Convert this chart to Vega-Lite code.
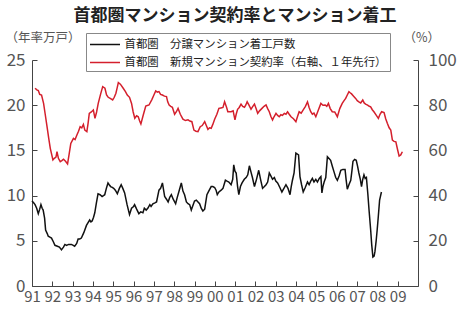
{
"$schema": "https://vega.github.io/schema/vega-lite/v6.json",
"width": 386, "height": 226,
"autosize": {"type": "none"},
"padding": {"left": 32, "top": 60, "right": 41, "bottom": 23},
"background": "white",
"title": {"text": "首都圏マンション契約率とマンション着工", "fontSize": 17, "fontWeight": "bold", "font": "Noto Sans CJK JP", "color": "#222", "anchor": "middle", "frame": "group", "offset": 6, "dx": 10},
"config": {
  "view": {"stroke": null},
  "font": "Noto Sans CJK JP",
  "axis": {"grid": false, "domainColor": "#444", "tickColor": "#444", "labelColor": "#555", "titleColor": "#555", "titleFontWeight": "normal", "titleFontSize": 12.5, "titleAngle": 0, "titleBaseline": "middle", "titleAlign": "left", "tickSize": -5}
},
"data": {"values": [
{"t":1991.0,"v":9.4,"s":"A"},{"t":1991.08,"v":9.2,"s":"A"},{"t":1991.15,"v":9.0,"s":"A"},{"t":1991.23,"v":8.6,"s":"A"},{"t":1991.31,"v":8.0,"s":"A"},{"t":1991.38,"v":8.5,"s":"A"},{"t":1991.44,"v":9.0,"s":"A"},{"t":1991.5,"v":8.6,"s":"A"},{"t":1991.55,"v":8.4,"s":"A"},{"t":1991.62,"v":7.5,"s":"A"},{"t":1991.67,"v":6.2,"s":"A"},{"t":1991.75,"v":5.8,"s":"A"},{"t":1991.8,"v":5.5,"s":"A"},{"t":1991.88,"v":5.4,"s":"A"},{"t":1991.96,"v":5.3,"s":"A"},{"t":1992.05,"v":4.9,"s":"A"},{"t":1992.13,"v":4.5,"s":"A"},{"t":1992.25,"v":4.4,"s":"A"},{"t":1992.35,"v":4.3,"s":"A"},{"t":1992.45,"v":4.0,"s":"A"},{"t":1992.55,"v":4.3,"s":"A"},{"t":1992.62,"v":4.6,"s":"A"},{"t":1992.7,"v":4.5,"s":"A"},{"t":1992.8,"v":4.6,"s":"A"},{"t":1992.94,"v":4.6,"s":"A"},{"t":1993.03,"v":4.5,"s":"A"},{"t":1993.1,"v":4.4,"s":"A"},{"t":1993.2,"v":4.7,"s":"A"},{"t":1993.27,"v":5.2,"s":"A"},{"t":1993.35,"v":5.2,"s":"A"},{"t":1993.43,"v":5.3,"s":"A"},{"t":1993.55,"v":5.9,"s":"A"},{"t":1993.68,"v":6.7,"s":"A"},{"t":1993.76,"v":7.0,"s":"A"},{"t":1993.84,"v":7.3,"s":"A"},{"t":1993.9,"v":7.1,"s":"A"},{"t":1993.96,"v":7.2,"s":"A"},{"t":1994.03,"v":7.6,"s":"A"},{"t":1994.09,"v":8.1,"s":"A"},{"t":1994.17,"v":9.2,"s":"A"},{"t":1994.25,"v":10.2,"s":"A"},{"t":1994.35,"v":10.1,"s":"A"},{"t":1994.45,"v":9.9,"s":"A"},{"t":1994.52,"v":10.0,"s":"A"},{"t":1994.58,"v":10.1,"s":"A"},{"t":1994.66,"v":10.8,"s":"A"},{"t":1994.74,"v":11.4,"s":"A"},{"t":1994.8,"v":11.2,"s":"A"},{"t":1994.87,"v":11.0,"s":"A"},{"t":1994.95,"v":10.9,"s":"A"},{"t":1995.02,"v":10.8,"s":"A"},{"t":1995.1,"v":10.6,"s":"A"},{"t":1995.15,"v":10.4,"s":"A"},{"t":1995.2,"v":10.2,"s":"A"},{"t":1995.3,"v":10.8,"s":"A"},{"t":1995.39,"v":11.2,"s":"A"},{"t":1995.47,"v":10.8,"s":"A"},{"t":1995.56,"v":10.3,"s":"A"},{"t":1995.68,"v":9.0,"s":"A"},{"t":1995.8,"v":7.9,"s":"A"},{"t":1995.9,"v":8.6,"s":"A"},{"t":1996.0,"v":8.8,"s":"A"},{"t":1996.05,"v":9.0,"s":"A"},{"t":1996.15,"v":8.5,"s":"A"},{"t":1996.26,"v":8.0,"s":"A"},{"t":1996.35,"v":8.2,"s":"A"},{"t":1996.46,"v":8.1,"s":"A"},{"t":1996.53,"v":8.6,"s":"A"},{"t":1996.62,"v":8.4,"s":"A"},{"t":1996.7,"v":8.6,"s":"A"},{"t":1996.8,"v":9.0,"s":"A"},{"t":1996.86,"v":8.8,"s":"A"},{"t":1996.95,"v":9.1,"s":"A"},{"t":1997.05,"v":9.2,"s":"A"},{"t":1997.13,"v":9.3,"s":"A"},{"t":1997.25,"v":10.6,"s":"A"},{"t":1997.33,"v":10.8,"s":"A"},{"t":1997.42,"v":11.4,"s":"A"},{"t":1997.53,"v":9.9,"s":"A"},{"t":1997.62,"v":9.6,"s":"A"},{"t":1997.7,"v":9.3,"s":"A"},{"t":1997.78,"v":9.8,"s":"A"},{"t":1997.86,"v":10.1,"s":"A"},{"t":1997.95,"v":9.6,"s":"A"},{"t":1998.07,"v":9.1,"s":"A"},{"t":1998.15,"v":9.8,"s":"A"},{"t":1998.25,"v":10.6,"s":"A"},{"t":1998.35,"v":11.4,"s":"A"},{"t":1998.43,"v":10.5,"s":"A"},{"t":1998.51,"v":10.1,"s":"A"},{"t":1998.6,"v":9.3,"s":"A"},{"t":1998.68,"v":9.1,"s":"A"},{"t":1998.76,"v":9.0,"s":"A"},{"t":1998.84,"v":8.4,"s":"A"},{"t":1998.92,"v":8.9,"s":"A"},{"t":1999.0,"v":9.4,"s":"A"},{"t":1999.09,"v":9.5,"s":"A"},{"t":1999.17,"v":9.3,"s":"A"},{"t":1999.25,"v":9.1,"s":"A"},{"t":1999.33,"v":8.6,"s":"A"},{"t":1999.41,"v":8.3,"s":"A"},{"t":1999.5,"v":8.5,"s":"A"},{"t":1999.61,"v":10.1,"s":"A"},{"t":1999.7,"v":10.5,"s":"A"},{"t":1999.82,"v":11.0,"s":"A"},{"t":1999.9,"v":11.0,"s":"A"},{"t":1999.99,"v":10.9,"s":"A"},{"t":2000.06,"v":10.6,"s":"A"},{"t":2000.12,"v":10.1,"s":"A"},{"t":2000.2,"v":10.4,"s":"A"},{"t":2000.31,"v":10.6,"s":"A"},{"t":2000.4,"v":10.8,"s":"A"},{"t":2000.52,"v":11.7,"s":"A"},{"t":2000.6,"v":11.6,"s":"A"},{"t":2000.69,"v":11.5,"s":"A"},{"t":2000.8,"v":11.2,"s":"A"},{"t":2000.88,"v":11.8,"s":"A"},{"t":2000.93,"v":13.4,"s":"A"},{"t":2000.99,"v":12.7,"s":"A"},{"t":2001.05,"v":12.5,"s":"A"},{"t":2001.12,"v":11.0,"s":"A"},{"t":2001.18,"v":10.1,"s":"A"},{"t":2001.26,"v":11.0,"s":"A"},{"t":2001.34,"v":11.4,"s":"A"},{"t":2001.45,"v":11.8,"s":"A"},{"t":2001.54,"v":12.0,"s":"A"},{"t":2001.62,"v":12.3,"s":"A"},{"t":2001.7,"v":13.3,"s":"A"},{"t":2001.78,"v":12.6,"s":"A"},{"t":2001.85,"v":12.0,"s":"A"},{"t":2001.95,"v":11.0,"s":"A"},{"t":2002.05,"v":11.8,"s":"A"},{"t":2002.16,"v":12.8,"s":"A"},{"t":2002.25,"v":11.8,"s":"A"},{"t":2002.35,"v":10.8,"s":"A"},{"t":2002.44,"v":11.0,"s":"A"},{"t":2002.52,"v":11.2,"s":"A"},{"t":2002.6,"v":11.5,"s":"A"},{"t":2002.68,"v":12.5,"s":"A"},{"t":2002.75,"v":12.2,"s":"A"},{"t":2002.84,"v":11.8,"s":"A"},{"t":2002.93,"v":12.0,"s":"A"},{"t":2003.0,"v":11.6,"s":"A"},{"t":2003.09,"v":11.4,"s":"A"},{"t":2003.2,"v":10.9,"s":"A"},{"t":2003.3,"v":10.4,"s":"A"},{"t":2003.4,"v":10.8,"s":"A"},{"t":2003.5,"v":11.2,"s":"A"},{"t":2003.6,"v":10.8,"s":"A"},{"t":2003.7,"v":10.1,"s":"A"},{"t":2003.76,"v":11.0,"s":"A"},{"t":2003.82,"v":11.7,"s":"A"},{"t":2003.9,"v":12.5,"s":"A"},{"t":2003.99,"v":14.7,"s":"A"},{"t":2004.06,"v":14.6,"s":"A"},{"t":2004.12,"v":14.5,"s":"A"},{"t":2004.19,"v":12.1,"s":"A"},{"t":2004.27,"v":11.2,"s":"A"},{"t":2004.35,"v":10.4,"s":"A"},{"t":2004.45,"v":10.9,"s":"A"},{"t":2004.56,"v":11.5,"s":"A"},{"t":2004.64,"v":11.2,"s":"A"},{"t":2004.72,"v":11.6,"s":"A"},{"t":2004.8,"v":11.9,"s":"A"},{"t":2004.88,"v":11.5,"s":"A"},{"t":2004.97,"v":11.8,"s":"A"},{"t":2005.05,"v":11.5,"s":"A"},{"t":2005.14,"v":11.9,"s":"A"},{"t":2005.22,"v":12.1,"s":"A"},{"t":2005.27,"v":10.3,"s":"A"},{"t":2005.32,"v":11.0,"s":"A"},{"t":2005.38,"v":11.5,"s":"A"},{"t":2005.46,"v":12.0,"s":"A"},{"t":2005.54,"v":14.3,"s":"A"},{"t":2005.62,"v":14.1,"s":"A"},{"t":2005.7,"v":13.9,"s":"A"},{"t":2005.79,"v":13.2,"s":"A"},{"t":2005.87,"v":12.6,"s":"A"},{"t":2005.95,"v":12.0,"s":"A"},{"t":2006.03,"v":11.7,"s":"A"},{"t":2006.12,"v":12.2,"s":"A"},{"t":2006.2,"v":12.8,"s":"A"},{"t":2006.3,"v":12.9,"s":"A"},{"t":2006.41,"v":12.9,"s":"A"},{"t":2006.46,"v":11.8,"s":"A"},{"t":2006.52,"v":10.7,"s":"A"},{"t":2006.6,"v":11.2,"s":"A"},{"t":2006.69,"v":11.7,"s":"A"},{"t":2006.75,"v":12.8,"s":"A"},{"t":2006.8,"v":13.8,"s":"A"},{"t":2006.88,"v":14.0,"s":"A"},{"t":2006.96,"v":13.9,"s":"A"},{"t":2007.03,"v":13.2,"s":"A"},{"t":2007.09,"v":12.5,"s":"A"},{"t":2007.16,"v":11.8,"s":"A"},{"t":2007.22,"v":11.0,"s":"A"},{"t":2007.28,"v":11.8,"s":"A"},{"t":2007.34,"v":12.3,"s":"A"},{"t":2007.4,"v":11.9,"s":"A"},{"t":2007.46,"v":12.0,"s":"A"},{"t":2007.53,"v":10.2,"s":"A"},{"t":2007.59,"v":8.4,"s":"A"},{"t":2007.67,"v":6.2,"s":"A"},{"t":2007.72,"v":4.6,"s":"A"},{"t":2007.78,"v":3.2,"s":"A"},{"t":2007.84,"v":3.3,"s":"A"},{"t":2007.88,"v":3.8,"s":"A"},{"t":2007.94,"v":5.0,"s":"A"},{"t":2007.99,"v":6.2,"s":"A"},{"t":2008.05,"v":7.8,"s":"A"},{"t":2008.11,"v":9.5,"s":"A"},{"t":2008.2,"v":10.4,"s":"A"},
{"t":1991.15,"v":87.5,"s":"B"},{"t":1991.24,"v":86.8,"s":"B"},{"t":1991.31,"v":86.5,"s":"B"},{"t":1991.38,"v":84.8,"s":"B"},{"t":1991.47,"v":84.5,"s":"B"},{"t":1991.57,"v":80.8,"s":"B"},{"t":1991.65,"v":76.0,"s":"B"},{"t":1991.74,"v":70.5,"s":"B"},{"t":1991.82,"v":65.5,"s":"B"},{"t":1991.9,"v":60.9,"s":"B"},{"t":1992.03,"v":55.8,"s":"B"},{"t":1992.1,"v":56.5,"s":"B"},{"t":1992.18,"v":57.0,"s":"B"},{"t":1992.23,"v":59.4,"s":"B"},{"t":1992.3,"v":56.5,"s":"B"},{"t":1992.39,"v":55.0,"s":"B"},{"t":1992.47,"v":55.5,"s":"B"},{"t":1992.55,"v":56.1,"s":"B"},{"t":1992.65,"v":55.2,"s":"B"},{"t":1992.75,"v":54.0,"s":"B"},{"t":1992.83,"v":58.5,"s":"B"},{"t":1992.91,"v":63.1,"s":"B"},{"t":1993.04,"v":65.3,"s":"B"},{"t":1993.12,"v":64.8,"s":"B"},{"t":1993.21,"v":66.8,"s":"B"},{"t":1993.29,"v":68.5,"s":"B"},{"t":1993.37,"v":70.5,"s":"B"},{"t":1993.45,"v":70.0,"s":"B"},{"t":1993.53,"v":71.5,"s":"B"},{"t":1993.6,"v":69.0,"s":"B"},{"t":1993.7,"v":68.3,"s":"B"},{"t":1993.76,"v":72.0,"s":"B"},{"t":1993.82,"v":76.4,"s":"B"},{"t":1993.92,"v":77.0,"s":"B"},{"t":1994.02,"v":77.9,"s":"B"},{"t":1994.1,"v":74.2,"s":"B"},{"t":1994.18,"v":77.0,"s":"B"},{"t":1994.26,"v":80.8,"s":"B"},{"t":1994.38,"v":85.0,"s":"B"},{"t":1994.48,"v":88.2,"s":"B"},{"t":1994.59,"v":87.5,"s":"B"},{"t":1994.67,"v":84.5,"s":"B"},{"t":1994.75,"v":83.5,"s":"B"},{"t":1994.85,"v":83.0,"s":"B"},{"t":1994.97,"v":82.3,"s":"B"},{"t":1995.05,"v":83.5,"s":"B"},{"t":1995.13,"v":85.3,"s":"B"},{"t":1995.2,"v":88.0,"s":"B"},{"t":1995.25,"v":90.0,"s":"B"},{"t":1995.35,"v":89.3,"s":"B"},{"t":1995.49,"v":87.5,"s":"B"},{"t":1995.6,"v":86.0,"s":"B"},{"t":1995.69,"v":84.5,"s":"B"},{"t":1995.8,"v":83.5,"s":"B"},{"t":1995.9,"v":80.8,"s":"B"},{"t":1995.98,"v":77.0,"s":"B"},{"t":1996.06,"v":74.2,"s":"B"},{"t":1996.15,"v":75.3,"s":"B"},{"t":1996.23,"v":74.9,"s":"B"},{"t":1996.3,"v":73.0,"s":"B"},{"t":1996.36,"v":71.7,"s":"B"},{"t":1996.48,"v":75.8,"s":"B"},{"t":1996.6,"v":79.6,"s":"B"},{"t":1996.68,"v":79.9,"s":"B"},{"t":1996.76,"v":80.1,"s":"B"},{"t":1996.9,"v":82.5,"s":"B"},{"t":1997.0,"v":84.5,"s":"B"},{"t":1997.09,"v":86.3,"s":"B"},{"t":1997.17,"v":85.8,"s":"B"},{"t":1997.25,"v":86.0,"s":"B"},{"t":1997.33,"v":84.8,"s":"B"},{"t":1997.42,"v":84.5,"s":"B"},{"t":1997.52,"v":84.0,"s":"B"},{"t":1997.62,"v":83.8,"s":"B"},{"t":1997.68,"v":81.5,"s":"B"},{"t":1997.75,"v":80.1,"s":"B"},{"t":1997.83,"v":79.5,"s":"B"},{"t":1997.91,"v":79.1,"s":"B"},{"t":1998.02,"v":76.0,"s":"B"},{"t":1998.1,"v":77.0,"s":"B"},{"t":1998.19,"v":78.6,"s":"B"},{"t":1998.3,"v":76.0,"s":"B"},{"t":1998.43,"v":73.8,"s":"B"},{"t":1998.55,"v":73.2,"s":"B"},{"t":1998.68,"v":73.5,"s":"B"},{"t":1998.77,"v":73.0,"s":"B"},{"t":1998.87,"v":72.7,"s":"B"},{"t":1998.97,"v":69.0,"s":"B"},{"t":1999.07,"v":68.5,"s":"B"},{"t":1999.17,"v":68.3,"s":"B"},{"t":1999.28,"v":70.5,"s":"B"},{"t":1999.38,"v":71.0,"s":"B"},{"t":1999.5,"v":72.7,"s":"B"},{"t":1999.58,"v":71.0,"s":"B"},{"t":1999.66,"v":69.3,"s":"B"},{"t":1999.74,"v":70.0,"s":"B"},{"t":1999.82,"v":69.8,"s":"B"},{"t":1999.9,"v":71.5,"s":"B"},{"t":1999.99,"v":73.8,"s":"B"},{"t":2000.1,"v":76.0,"s":"B"},{"t":2000.2,"v":78.6,"s":"B"},{"t":2000.3,"v":78.8,"s":"B"},{"t":2000.4,"v":79.0,"s":"B"},{"t":2000.48,"v":81.5,"s":"B"},{"t":2000.58,"v":79.0,"s":"B"},{"t":2000.64,"v":77.1,"s":"B"},{"t":2000.8,"v":77.1,"s":"B"},{"t":2000.9,"v":77.5,"s":"B"},{"t":2000.99,"v":73.5,"s":"B"},{"t":2001.05,"v":76.0,"s":"B"},{"t":2001.12,"v":78.2,"s":"B"},{"t":2001.2,"v":79.0,"s":"B"},{"t":2001.29,"v":80.5,"s":"B"},{"t":2001.37,"v":79.5,"s":"B"},{"t":2001.46,"v":79.1,"s":"B"},{"t":2001.52,"v":80.0,"s":"B"},{"t":2001.59,"v":81.5,"s":"B"},{"t":2001.68,"v":80.0,"s":"B"},{"t":2001.78,"v":78.2,"s":"B"},{"t":2001.87,"v":79.5,"s":"B"},{"t":2001.95,"v":80.5,"s":"B"},{"t":2002.03,"v":78.5,"s":"B"},{"t":2002.11,"v":76.4,"s":"B"},{"t":2002.2,"v":77.5,"s":"B"},{"t":2002.32,"v":78.6,"s":"B"},{"t":2002.42,"v":79.5,"s":"B"},{"t":2002.52,"v":80.1,"s":"B"},{"t":2002.6,"v":78.5,"s":"B"},{"t":2002.68,"v":77.1,"s":"B"},{"t":2002.76,"v":75.0,"s":"B"},{"t":2002.84,"v":73.5,"s":"B"},{"t":2002.92,"v":75.0,"s":"B"},{"t":2003.01,"v":76.4,"s":"B"},{"t":2003.09,"v":75.5,"s":"B"},{"t":2003.17,"v":74.9,"s":"B"},{"t":2003.25,"v":75.8,"s":"B"},{"t":2003.33,"v":75.5,"s":"B"},{"t":2003.42,"v":76.4,"s":"B"},{"t":2003.5,"v":76.0,"s":"B"},{"t":2003.58,"v":77.1,"s":"B"},{"t":2003.66,"v":76.0,"s":"B"},{"t":2003.75,"v":74.9,"s":"B"},{"t":2003.87,"v":74.0,"s":"B"},{"t":2003.99,"v":72.7,"s":"B"},{"t":2004.07,"v":75.0,"s":"B"},{"t":2004.15,"v":77.1,"s":"B"},{"t":2004.25,"v":76.5,"s":"B"},{"t":2004.35,"v":77.9,"s":"B"},{"t":2004.46,"v":79.5,"s":"B"},{"t":2004.56,"v":81.5,"s":"B"},{"t":2004.64,"v":79.0,"s":"B"},{"t":2004.72,"v":77.1,"s":"B"},{"t":2004.8,"v":76.0,"s":"B"},{"t":2004.88,"v":76.5,"s":"B"},{"t":2004.97,"v":74.9,"s":"B"},{"t":2005.1,"v":78.0,"s":"B"},{"t":2005.22,"v":80.8,"s":"B"},{"t":2005.32,"v":80.0,"s":"B"},{"t":2005.43,"v":80.1,"s":"B"},{"t":2005.51,"v":79.5,"s":"B"},{"t":2005.59,"v":80.8,"s":"B"},{"t":2005.68,"v":78.5,"s":"B"},{"t":2005.78,"v":77.1,"s":"B"},{"t":2005.9,"v":77.0,"s":"B"},{"t":2006.03,"v":74.9,"s":"B"},{"t":2006.15,"v":78.5,"s":"B"},{"t":2006.27,"v":80.8,"s":"B"},{"t":2006.36,"v":82.0,"s":"B"},{"t":2006.44,"v":83.0,"s":"B"},{"t":2006.52,"v":84.5,"s":"B"},{"t":2006.6,"v":86.0,"s":"B"},{"t":2006.66,"v":85.5,"s":"B"},{"t":2006.73,"v":85.0,"s":"B"},{"t":2006.83,"v":84.0,"s":"B"},{"t":2006.93,"v":83.0,"s":"B"},{"t":2007.01,"v":82.0,"s":"B"},{"t":2007.09,"v":81.5,"s":"B"},{"t":2007.18,"v":81.0,"s":"B"},{"t":2007.28,"v":82.3,"s":"B"},{"t":2007.35,"v":81.0,"s":"B"},{"t":2007.42,"v":80.5,"s":"B"},{"t":2007.52,"v":80.0,"s":"B"},{"t":2007.6,"v":79.5,"s":"B"},{"t":2007.67,"v":79.3,"s":"B"},{"t":2007.75,"v":78.0,"s":"B"},{"t":2007.83,"v":77.1,"s":"B"},{"t":2007.95,"v":75.5,"s":"B"},{"t":2008.05,"v":74.2,"s":"B"},{"t":2008.13,"v":76.0,"s":"B"},{"t":2008.21,"v":77.1,"s":"B"},{"t":2008.33,"v":76.7,"s":"B"},{"t":2008.41,"v":74.0,"s":"B"},{"t":2008.49,"v":72.0,"s":"B"},{"t":2008.58,"v":70.0,"s":"B"},{"t":2008.66,"v":69.0,"s":"B"},{"t":2008.74,"v":64.6,"s":"B"},{"t":2008.82,"v":64.0,"s":"B"},{"t":2008.91,"v":63.8,"s":"B"},{"t":2008.99,"v":60.5,"s":"B"},{"t":2009.07,"v":57.5,"s":"B"},{"t":2009.15,"v":58.0,"s":"B"},{"t":2009.23,"v":59.4,"s":"B"}
]},
"transform": [{"calculate": "datum.s == 'A' ? '首都圏　分譲マンション着工戸数' : '首都圏　新規マンション契約率（右軸、１年先行）'", "as": "series"}],
"encoding": {
  "x": {"field": "t", "type": "quantitative", "scale": {"domain": [1991, 2010], "nice": false, "zero": false},
        "axis": {"title": null, "values": [1991,1992,1993,1994,1995,1996,1997,1998,1999,2000,2001,2002,2003,2004,2005,2006,2007,2008,2009], "labelExpr": "slice(toString(datum.value), 2)", "labelFontSize": 15, "labelPadding": 8, "labelFlush": false}},
  "color": {"field": "series", "type": "nominal", "sort": null,
        "scale": {"domain": ["首都圏　分譲マンション着工戸数", "首都圏　新規マンション契約率（右軸、１年先行）"], "range": ["#111111", "#d41f2c"]},
        "legend": {"title": null, "orient": "none", "legendX": 54, "legendY": -27, "direction": "vertical", "strokeColor": "#888", "padding": 3, "symbolType": "M-2,0H2", "symbolSize": 225, "symbolStrokeWidth": 1.5, "symbolOffset": 7.5, "labelFontSize": 11.4, "labelColor": "#222", "labelOffset": 11, "rowPadding": 4, "labelLimit": 400}}
},
"layer": [
  {"transform": [{"filter": "datum.s == 'A'"}], "mark": {"type": "line", "strokeWidth": 1.5},
   "encoding": {"y": {"field": "v", "type": "quantitative", "scale": {"domain": [0, 25], "nice": false},
     "axis": {"orient": "left", "values": [0,5,10,15,20,25], "labelFontSize": 17, "labelPadding": 12, "title": "（年率万戸）", "titleX": -27, "titleY": -23}}}},
  {"transform": [{"filter": "datum.s == 'B'"}], "mark": {"type": "line", "strokeWidth": 1.5},
   "encoding": {"y": {"field": "v", "type": "quantitative", "scale": {"domain": [0, 100], "nice": false},
     "axis": {"orient": "right", "values": [0,20,40,60,80,100], "labelFontSize": 17, "labelPadding": 15, "title": "（%）", "titleX": -15, "titleY": -23}}}}
],
"resolve": {"scale": {"y": "independent"}}
}
